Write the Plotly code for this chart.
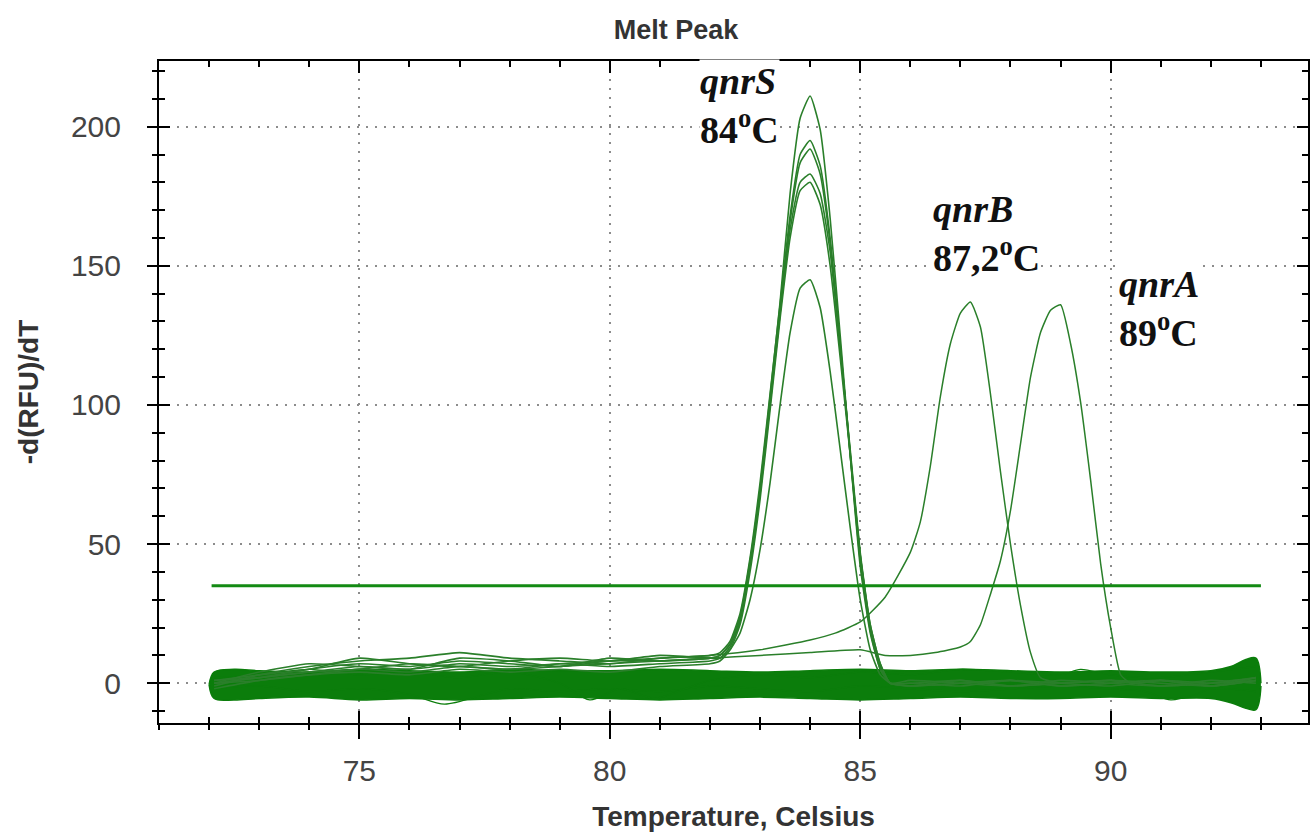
import plotly.graph_objects as go

# ---------------- data ----------------
X_RANGE = [71.0, 93.94]
Y_RANGE = [-14.3, 223.6]
X_TICKS = [75, 80, 85, 90]
Y_TICKS = [0, 50, 100, 150, 200]
THRESHOLD = 35
THRESH_X = [72.05, 93.0]

# qnrS wells (shared temperature grid)
XS = [72.1, 73.0, 74.0, 75.0, 76.0, 77.0, 78.0, 79.0, 80.0, 81.0, 82.0,
      82.2, 82.4, 82.6, 82.8, 83.0, 83.2, 83.4, 83.6, 83.8, 84.0, 84.2, 84.4,
      84.6, 84.8, 85.0, 85.2, 85.4, 85.6, 86.0, 87.0, 88.0, 89.0, 90.0, 91.0,
      92.0, 92.9]
S1 = [0, 2, 5, 7, 6, 8, 7, 6, 8, 8, 9,
      10, 14, 24, 44, 70, 103, 137, 176, 203, 211, 199, 167, 125, 82, 42, 18, 5, 0,
      -1, 1, -1, 0, 1, -1, 0, 2]
S2 = [-1, 3, 6, 8, 9, 11, 9, 8, 7, 9, 10,
      11, 15, 25, 45, 72, 104, 136, 168, 190, 195, 186, 160, 122, 82, 44, 19, 5, 0,
      0, -1, 1, -1, 0, 1, -1, 1]
S3 = [1, 2, 4, 5, 7, 6, 5, 7, 6, 7, 8,
      9, 13, 22, 42, 68, 100, 133, 166, 187, 192, 183, 158, 121, 83, 46, 20, 6, 0,
      1, 0, -1, 1, 0, -1, 1, 0]
S4 = [0, 4, 7, 6, 5, 9, 8, 6, 9, 8, 9,
      10, 14, 23, 43, 69, 101, 133, 163, 180, 183, 176, 155, 120, 84, 47, 21, 7, 0,
      -1, 0, 1, -1, 0, 1, -1, 2]
S5 = [-2, 1, 3, 4, 3, 5, 4, 5, 4, 6, 7,
      8, 12, 21, 40, 66, 98, 131, 160, 177, 180, 172, 150, 117, 82, 46, 21, 7, 0,
      0, 1, -1, 0, 1, 0, -1, 1]
S6 = [1, 3, 5, 9, 7, 6, 8, 9, 8, 10, 9,
      9, 12, 18, 30, 48, 72, 100, 126, 142, 145, 135, 112, 84, 56, 30, 12, 3, 0,
      -1, 0, 1, 0, -1, 1, 0, 1]

# qnrB well
QB_X = [72.1, 73, 74, 75, 76, 77, 78, 79, 80, 81, 82, 83, 84, 84.5, 85.0, 85.5,
        86.0, 86.2, 86.4, 86.6, 86.8, 87.0, 87.2, 87.4, 87.6, 87.8, 88.0, 88.2,
        88.4, 88.6, 89, 90, 91, 92, 92.9]
QB_Y = [0, 2, 4, 6, 5, 7, 6, 7, 8, 9, 10, 12, 15.5, 18, 22, 31,
        47, 58, 78, 103, 122, 133, 137, 128, 104, 76, 50, 28,
        11, 2, 0, 1, -1, 0, 2]

# qnrA well
QA_X = [72.1, 73, 74, 75, 76, 77, 78, 79, 80, 81, 82, 83, 84, 85, 85.5, 86, 86.5,
        87, 87.2, 87.4, 87.6, 87.8, 88.0, 88.2, 88.4, 88.6, 88.8, 89.0, 89.2,
        89.4, 89.6, 89.8, 90.0, 90.2, 90.4, 91, 92, 92.9]
QA_Y = [0, 1, 3, 5, 4, 6, 5, 6, 7, 8, 9, 10, 11, 12, 10, 10, 11,
        13, 15, 21, 32, 44, 62, 86, 110, 126, 134, 136, 122,
        101, 73, 43, 20, 3, 0, 1, -1, 1]

# negative wells: envelope of the dense baseline band
BAND_X = [72.0, 72.1, 72.5, 73, 74, 75, 76, 77, 78, 79, 80, 81, 82, 83, 84, 85,
          86, 87, 88, 89, 90, 91, 92, 92.4, 92.7, 92.9, 93.0]
BAND_HI = [-0.5, 4, 5, 4.5, 4, 5, 4.5, 4, 5, 4.5, 4.5, 5, 4.5, 4, 4.5, 5,
           4.5, 5, 4.5, 4, 4.5, 4, 4.5, 6, 8.5, 9, 0]
BAND_LO = [-0.5, -5.5, -6, -5.5, -5, -6, -5.5, -6, -5.5, -5, -5.5, -6, -5.5, -5,
           -5.5, -6, -5.5, -5, -5.5, -5.5, -5, -5.5, -5.5, -7, -9, -9.5, -1]

# a few negative wells that leave the band
N1_X = [72.1, 73, 74, 75, 76, 76.7, 77.5, 78, 79, 80, 81, 82, 83, 84, 85, 86, 87,
        88, 89, 90, 90.7, 91.2, 91.7, 92, 92.9]
N1_Y = [-2, -1, -3, -2, -4, -7.5, -4, -2, -3, -2, -3, -1, -2, -3, -1, -2, -3,
        -2, -1, -2, -3, -6, -4, -2, -3]
N2_X = [72.1, 73, 74, 75, 76, 77, 78, 79, 79.6, 80.2, 80.9, 81.5, 82, 83, 84, 85,
        86, 87, 88, 89, 89.4, 90, 91, 92, 92.9]
N2_Y = [2, 3, 5, 3, 4, 2, 4, 0, -6, -2, -5.5, -2, 1, 3, 2, 4,
        3, 5, 4, 3, 5, 3, 2, 4, 6]

ANNOTS = [
    ("qnrS", "84", 81.78, 191.0),
    ("qnrB", "87,2", 86.43, 145.0),
    ("qnrA", "89", 90.15, 118.0),
]

# ---------------- styling ----------------
LINE_GREEN = "#2a7f2a"
BAND_GREEN = "#0b7d0b"
THRESH_GREEN = "#138a13"
TICK_FONT = dict(family="Arial, Liberation Sans, sans-serif", size=30, color="#444444")
TITLE_FONT = dict(family="Arial, Liberation Sans, sans-serif", size=28, color="#333333",
                  weight="bold")

fig = go.Figure()

# baseline band of negative wells
fig.add_trace(go.Scatter(x=BAND_X, y=BAND_LO, mode="lines",
                         line=dict(color=BAND_GREEN, width=1.5, shape="spline"),
                         showlegend=False, hoverinfo="skip"))
fig.add_trace(go.Scatter(x=BAND_X, y=BAND_HI, mode="lines", fill="tonexty",
                         fillcolor=BAND_GREEN,
                         line=dict(color=BAND_GREEN, width=1.5, shape="spline"),
                         showlegend=False, hoverinfo="skip"))
for nx, ny in [(N1_X, N1_Y), (N2_X, N2_Y)]:
    fig.add_trace(go.Scatter(x=nx, y=ny, mode="lines",
                             line=dict(color=BAND_GREEN, width=1.3, shape="spline",
                                       smoothing=0.8),
                             showlegend=False, hoverinfo="skip"))

for ys in [S1, S2, S3, S4, S5, S6]:
    fig.add_trace(go.Scatter(x=XS, y=ys, mode="lines",
                             line=dict(color=LINE_GREEN, width=1.6, shape="spline",
                                       smoothing=0.5),
                             showlegend=False))
fig.add_trace(go.Scatter(x=QB_X, y=QB_Y, mode="lines",
                         line=dict(color=LINE_GREEN, width=1.5, shape="spline",
                                   smoothing=0.5), showlegend=False))
fig.add_trace(go.Scatter(x=QA_X, y=QA_Y, mode="lines",
                         line=dict(color=LINE_GREEN, width=1.5, shape="spline",
                                   smoothing=0.5), showlegend=False))

# threshold line (on the overlay axes, which share the same ranges)
fig.add_trace(go.Scatter(x=THRESH_X, y=[THRESHOLD] * len(THRESH_X), mode="lines",
                         line=dict(color=THRESH_GREEN, width=3),
                         xaxis="x2", yaxis="y2", showlegend=False))

for gene, temp, ax, ay in ANNOTS:
    fig.add_annotation(
        x=ax, y=ay, xref="x", yref="y", xanchor="left", yanchor="bottom",
        text=f"<i>{gene}</i><br>{temp}<sup>o</sup>C", showarrow=False, align="left",
        font=dict(family="Times New Roman, Liberation Serif, serif", size=38,
                  color="#111111", weight="bold"),
        bgcolor="white", borderpad=0)

grid = dict(showgrid=True, gridcolor="#8c8c8c", gridwidth=2, griddash="2px,7px")

fig.update_layout(
    width=1312, height=832,
    margin=dict(l=159, r=2, t=61, b=109),
    paper_bgcolor="white", plot_bgcolor="white",
    title=dict(text="Melt Peak", x=676 / 1312, xref="container", xanchor="center",
               y=1 - 30 / 832, yref="container", yanchor="middle",
               font=dict(family="Arial, Liberation Sans, sans-serif", size=27,
                         color="#333333", weight="bold")),
    # primary axes: inward ticks, mirrored on top / right
    xaxis=dict(range=X_RANGE, tickvals=X_TICKS, ticks="inside", ticklen=12,
               tickwidth=2, tickcolor="black", showline=True, linewidth=2,
               linecolor="black", mirror="ticks", zeroline=False,
               tickfont=TICK_FONT, ticklabelstandoff=20,
               minor=dict(dtick=1, tick0=0, ticks="inside", ticklen=6, tickwidth=2,
                          tickcolor="black", showgrid=False),
               title=dict(text="Temperature, Celsius", font=TITLE_FONT, standoff=22),
               **grid),
    yaxis=dict(range=Y_RANGE, tickvals=Y_TICKS, ticks="inside", ticklen=11,
               tickwidth=2, tickcolor="black", showline=True, linewidth=2,
               linecolor="black", mirror="ticks", zeroline=False,
               tickfont=TICK_FONT, ticklabelstandoff=30,
               minor=dict(dtick=10, tick0=0, ticks="inside", ticklen=6, tickwidth=2,
                          tickcolor="black", showgrid=False),
               title=dict(text="-d(RFU)/dT", font=TITLE_FONT, standoff=24),
               **grid),
    # overlay axes: outward ticks on bottom / left so ticks cross the frame
    xaxis2=dict(range=X_RANGE, overlaying="x", anchor="y2", side="bottom",
                tickvals=X_TICKS, ticks="outside", ticklen=15, tickwidth=2,
                tickcolor="black", showline=False,
                showticklabels=False, showgrid=False, zeroline=False,
                minor=dict(dtick=1, tick0=0, ticks="outside", ticklen=6, tickwidth=2,
                           tickcolor="black", showgrid=False)),
    yaxis2=dict(range=Y_RANGE, overlaying="y", anchor="x2", side="left",
                tickvals=Y_TICKS, ticks="outside", ticklen=11, tickwidth=2,
                tickcolor="black", showline=False,
                showticklabels=False, showgrid=False, zeroline=False,
                minor=dict(dtick=10, tick0=0, ticks="outside", ticklen=6, tickwidth=2,
                           tickcolor="black", showgrid=False)),
)

fig.write_html("out.html")
